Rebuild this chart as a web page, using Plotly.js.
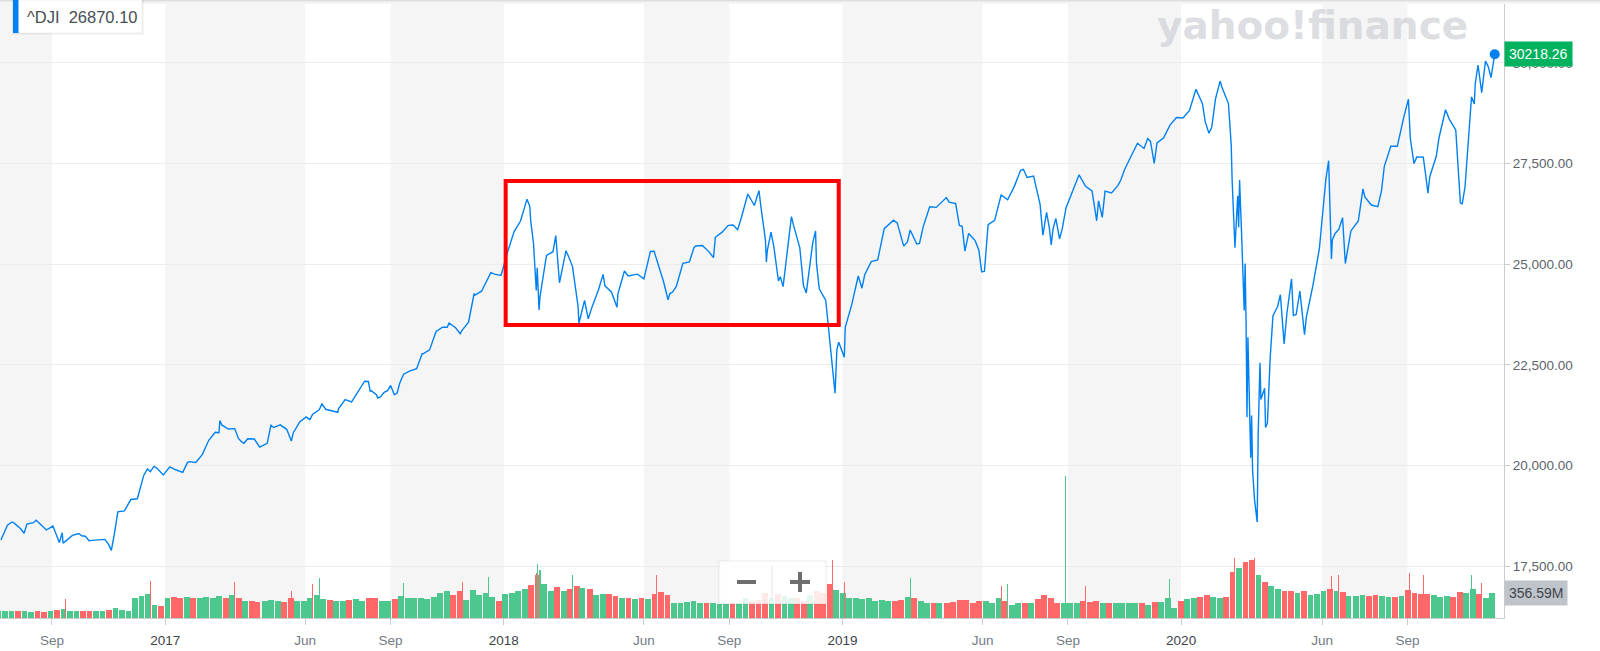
<!DOCTYPE html>
<html><head><meta charset="utf-8">
<script src="https://cdn.plot.ly/plotly-3.0.1.min.js"></script>
<style>html,body{margin:0;padding:0;background:#fff}#chart{width:1600px;height:651px}</style>
</head><body><div id="chart"></div>
<script>
// ---- DATA ----
const weekDates = [
'2016-07-08','2016-07-15','2016-07-22','2016-07-29','2016-08-05','2016-08-12','2016-08-19','2016-08-26','2016-09-02','2016-09-09','2016-09-16','2016-09-23','2016-09-30','2016-10-07','2016-10-14','2016-10-21','2016-10-28','2016-11-04','2016-11-11','2016-11-18','2016-11-25','2016-12-02','2016-12-09','2016-12-16','2016-12-23','2016-12-30',
'2017-01-06','2017-01-13','2017-01-20','2017-01-27','2017-02-03','2017-02-10','2017-02-17','2017-02-24','2017-03-03','2017-03-10','2017-03-17','2017-03-24','2017-03-31','2017-04-07','2017-04-13','2017-04-21','2017-04-28','2017-05-05','2017-05-12','2017-05-19','2017-05-26','2017-06-02','2017-06-09','2017-06-16','2017-06-23','2017-06-30','2017-07-07','2017-07-14','2017-07-21','2017-07-28','2017-08-04','2017-08-11','2017-08-18','2017-08-25','2017-09-01','2017-09-08','2017-09-15','2017-09-22','2017-09-29','2017-10-06','2017-10-13','2017-10-20','2017-10-27','2017-11-03','2017-11-10','2017-11-17','2017-11-24','2017-12-01','2017-12-08','2017-12-15','2017-12-22','2017-12-29',
'2018-01-05','2018-01-12','2018-01-19','2018-01-26','2018-02-02','2018-02-09','2018-02-16','2018-02-23','2018-03-02','2018-03-09','2018-03-16','2018-03-23','2018-03-29','2018-04-06','2018-04-13','2018-04-20','2018-04-27','2018-05-04','2018-05-11','2018-05-18','2018-05-25','2018-06-01','2018-06-08','2018-06-15','2018-06-22','2018-06-29','2018-07-06','2018-07-13','2018-07-20','2018-07-27','2018-08-03','2018-08-10','2018-08-17','2018-08-24','2018-08-31','2018-09-07','2018-09-14','2018-09-21','2018-09-28','2018-10-05','2018-10-12','2018-10-19','2018-10-26','2018-11-02','2018-11-09','2018-11-16','2018-11-23','2018-11-30','2018-12-07','2018-12-14','2018-12-21','2018-12-28',
'2019-01-04','2019-01-11','2019-01-18','2019-01-25','2019-02-01','2019-02-08','2019-02-15','2019-02-22','2019-03-01','2019-03-08','2019-03-15','2019-03-22','2019-03-29','2019-04-05','2019-04-12','2019-04-18','2019-04-26','2019-05-03','2019-05-10','2019-05-17','2019-05-24','2019-05-31','2019-06-07','2019-06-14','2019-06-21','2019-06-28','2019-07-05','2019-07-12','2019-07-19','2019-07-26','2019-08-02','2019-08-09','2019-08-16','2019-08-23','2019-08-30','2019-09-06','2019-09-13','2019-09-20','2019-09-27','2019-10-04','2019-10-11','2019-10-18','2019-10-25','2019-11-01','2019-11-08','2019-11-15','2019-11-22','2019-11-29','2019-12-06','2019-12-13','2019-12-20','2019-12-27',
'2020-01-03','2020-01-10','2020-01-17','2020-01-24','2020-01-31','2020-02-07','2020-02-14','2020-02-21','2020-02-28','2020-03-06','2020-03-13','2020-03-20','2020-03-27','2020-04-03','2020-04-09','2020-04-17','2020-04-24','2020-05-01','2020-05-08','2020-05-15','2020-05-22','2020-05-29','2020-06-05','2020-06-12','2020-06-19','2020-06-26','2020-07-02','2020-07-10','2020-07-17','2020-07-24','2020-07-31','2020-08-07','2020-08-14','2020-08-21','2020-08-28','2020-09-04','2020-09-11','2020-09-18','2020-09-25','2020-10-02','2020-10-09','2020-10-16','2020-10-23','2020-10-30','2020-11-06','2020-11-13','2020-11-20','2020-11-27','2020-12-04'
];
const weekClose = [
18146,18516,18571,18432,18543,18576,18552,18395,18492,18085,18124,18261,18308,18240,18138,18145,18161,17888,18847,18868,19152,19170,19757,19843,19934,19763,
19964,19885,19827,20094,20071,20269,20624,20822,21005,20903,20914,20597,20663,20656,20453,20548,20941,21007,20897,20805,21080,21206,21272,21384,21395,21350,21414,21638,21580,21830,22092,21858,21675,21814,21988,21798,22268,22350,22405,22774,22871,23329,23434,23539,23422,23358,23558,24232,24329,24652,24754,24719,
25296,25803,26072,26617,25521,24191,25219,25310,24538,25336,24947,23533,24103,23933,24360,24463,24311,24263,24831,24715,24753,24635,25317,25090,24581,24271,24456,25019,25058,25451,25463,25313,25669,25790,25965,25917,26155,26744,26458,26447,25340,25444,24688,25271,25989,25413,24286,25538,24389,24100,22445,23062,
23433,23996,24706,24737,25064,25106,25883,26031,26026,25450,25849,25502,25929,26425,26412,26559,26543,26505,25942,25764,25586,24815,25984,26090,26719,26600,26922,27332,27154,27192,26485,26287,25886,25629,26403,26797,27220,26935,26820,26574,26817,26770,26958,27347,27681,28005,27876,28051,28015,28135,28455,28645,
28635,28823,29348,28990,28256,29103,29398,28992,25409,25865,23185,19174,21637,21053,23719,24242,23775,23724,24331,23685,24465,25383,27111,25606,25871,25016,25827,26075,26672,26470,26428,27433,27931,27930,28654,28133,27666,27657,27174,27683,28587,28606,28336,26502,28323,29480,29263,29910,30218.26
];
const weekVolM = [
95,100,95,100,95,90,95,90,95,110,130,100,105,95,100,100,95,115,150,110,100,290,320,340,190,170,
290,300,280,300,290,280,300,290,310,280,330,280,250,250,230,250,260,250,230,290,240,250,290,330,270,260,240,250,260,270,250,280,290,240,250,270,320,280,280,290,270,300,360,380,330,380,260,400,330,360,300,240,
340,360,390,420,470,620,480,380,440,380,410,460,430,420,330,340,350,320,290,280,270,280,270,340,370,330,210,220,230,240,220,210,220,200,200,210,220,280,250,260,360,290,350,320,280,290,240,330,380,360,480,400,
360,290,290,270,280,250,260,240,250,260,300,280,240,220,210,210,220,230,260,260,220,240,240,215,280,250,180,210,215,215,270,330,280,220,210,215,220,240,230,250,220,215,215,220,220,215,220,180,230,230,280,140,
250,270,290,300,330,300,280,300,650,720,800,830,620,520,450,410,380,390,360,380,330,350,390,420,380,370,310,320,330,320,330,320,300,300,310,400,360,350,350,330,300,310,300,370,360,410,350,280,356.59
];
// intraweek closes (daily moves visible in the line)
const extraDates = ['2016-07-20','2016-08-02','2016-08-15','2016-09-12','2016-09-13','2016-10-03','2016-10-11','2016-11-01','2016-11-07','2016-11-09','2016-11-22','2016-12-13','2016-12-20',
'2017-01-25','2017-02-28','2017-03-01','2017-03-21','2017-03-27','2017-04-18','2017-04-25','2017-05-17','2017-06-06','2017-06-19','2017-07-06','2017-08-08','2017-08-10','2017-08-17','2017-08-21','2017-08-29','2017-09-05','2017-09-11','2017-10-05','2017-11-01','2017-11-15','2017-11-30','2017-12-18',
'2018-01-29','2018-01-30','2018-02-05','2018-02-06','2018-02-08','2018-02-26','2018-03-12','2018-03-22','2018-04-02','2018-04-18','2018-05-03','2018-05-15','2018-06-12','2018-06-27','2018-07-02','2018-07-25','2018-08-15','2018-09-05','2018-09-10','2018-10-03','2018-10-10','2018-10-11','2018-10-16','2018-10-24','2018-10-29','2018-11-07','2018-11-20','2018-12-03','2018-12-04','2018-12-24','2018-12-26',
'2019-01-03','2019-01-22','2019-02-25','2019-03-12','2019-03-25','2019-04-23','2019-05-07','2019-05-13','2019-05-28','2019-06-03','2019-07-15','2019-08-05','2019-08-12','2019-08-14','2019-08-19','2019-08-26','2019-09-12','2019-10-02','2019-10-08','2019-10-28','2019-11-26','2019-12-03',
'2020-01-27','2020-02-03','2020-02-12','2020-02-24','2020-02-25','2020-02-27','2020-03-02','2020-03-03','2020-03-04','2020-03-05','2020-03-09','2020-03-10','2020-03-11','2020-03-12','2020-03-16','2020-03-17','2020-03-18','2020-03-23','2020-03-24','2020-03-26','2020-03-31','2020-04-01','2020-04-06','2020-04-14','2020-04-21','2020-04-29','2020-05-04','2020-05-13','2020-05-26','2020-06-08','2020-06-11','2020-06-15','2020-06-23','2020-07-15','2020-08-04','2020-09-02','2020-09-08','2020-09-21','2020-09-23','2020-10-05','2020-10-12','2020-10-28','2020-11-02','2020-11-09','2020-11-12','2020-11-16','2020-11-24','2020-11-30'];
const extraClose = [18595,18314,18636,18326,18067,18253,18129,18037,18260,18590,19023,19911,19975,
20069,20812,21115,20669,20550,20523,20997,20607,21137,21529,21320,22085,21844,21751,21703,21865,21754,22057,22776,23435,23272,24272,24792,
26439,26077,24346,24913,23860,25709,25179,23958,23644,24748,23930,24706,25320,24117,24307,25414,25162,25975,25857,26828,25599,25053,25798,24583,24443,26181,24465,25826,25027,21792,22878,
22686,24404,26092,25555,25516,26656,25965,25325,25347,24820,27359,25718,25897,25479,26135,25898,27182,26079,26164,27091,28121,27503,
28535,28400,29551,27961,27081,25766,26703,25917,27091,26121,23851,25018,23553,21200,20189,21237,19899,18592,20705,22552,21917,20944,22680,23949,23019,24634,23750,23248,24995,27572,25128,25763,26156,26870,26828,29100,27501,27147,26763,28149,28838,26520,26925,29158,28980,29950,30046,29639];
// single-day volume spikes (millions), 1 = up day, 0 = down day
const spikeDates = ['2016-09-16','2016-12-16','2017-03-17','2017-05-17','2017-06-09','2017-06-16','2017-09-15','2017-11-17','2017-12-15','2018-02-05','2018-02-06','2018-02-09','2018-03-16','2018-06-15','2018-12-21','2019-01-03','2019-03-15','2019-06-21','2019-06-28','2019-08-29','2019-09-20','2019-12-20','2020-02-28','2020-03-20','2020-06-11','2020-06-19','2020-09-03','2020-09-18','2020-11-09','2020-11-20'];
const spikeVolM = [265,530,515,385,485,570,500,515,585,645,770,685,615,615,830,515,570,455,485,2030,455,560,860,860,600,615,645,615,615,500];
const spikeUp = [0,0,0,0,0,1,1,0,1,0,1,1,1,0,0,0,1,0,1,1,0,1,0,0,0,0,0,0,1,0];
const tickDates = ['2016-09-01','2017-01-01','2017-06-01','2017-09-01','2018-01-01','2018-06-01','2018-09-01','2019-01-01','2019-06-01','2019-09-01','2020-01-01','2020-06-01','2020-09-01'];
const tickLabels = ['Sep','2017','Jun','Sep','2018','Jun','Sep','2019','Jun','Sep','2020','Jun','Sep'];
const priceTicks = [17500,20000,22500,25000,27500,30000];
const symbolName = '^DJI';
const hoverValue = '26870.10';
const lastCloseText = '30218.26';
const lastVolumeText = '356.59M';

// ---- BUILD ----
const FONT = 'Liberation Sans, Arial, Helvetica, sans-serif';
const GREEN = 'rgb(76,199,142)', RED = 'rgb(255,104,104)', BLUE = 'rgb(0,129,242)';
const DAY = 86400000;
const W = 1504, T = 4, B = 618, H = B - T;
const px = v => v / W;
const py = v => (B - v) / H;

const pts = weekDates.map((d, i) => [d, weekClose[i]]).concat(extraDates.map((d, i) => [d, extraClose[i]]));
pts.sort((a, b) => a[0] < b[0] ? -1 : a[0] > b[0] ? 1 : 0);
const lineX = pts.map(p => p[0]), lineY = pts.map(p => p[1]);

const weekColors = weekClose.map((c, i) => (i === 0 || c >= weekClose[i - 1]) ? GREEN : RED);

const traces = [
  { type: 'bar', x: weekDates, y: weekVolM, yaxis: 'y2', width: 6.3 * DAY, offset: -5.7 * DAY,
    marker: { color: weekColors, line: { width: 0 } }, hoverinfo: 'skip' },
  { type: 'bar', x: spikeDates, y: spikeVolM, yaxis: 'y2', width: 1.1 * DAY, offset: -0.55 * DAY,
    marker: { color: spikeUp.map(u => u ? GREEN : RED), line: { width: 0 } }, hoverinfo: 'skip' },
  { type: 'scatter', mode: 'lines', x: lineX, y: lineY, line: { color: BLUE, width: 1.4 }, hoverinfo: 'skip' },
  { type: 'scatter', mode: 'markers', x: [lineX[lineX.length - 1]], y: [lineY[lineY.length - 1]],
    marker: { color: BLUE, size: 10 }, hoverinfo: 'skip' }
];

// alternating background bands between date ticks
const bandEdges = ['2016-07-01'].concat(tickDates).concat(['2020-12-31']);
const shapes = [];
for (let i = 0; i < bandEdges.length - 1; i += 2) {
  shapes.push({ type: 'rect', xref: 'x', yref: 'paper', x0: bandEdges[i], x1: bandEdges[i + 1], y0: 0, y1: 1,
    fillcolor: '#f5f5f5', line: { width: 0 }, layer: 'below' });
}
// top shadow
shapes.push({ type: 'rect', xref: 'paper', yref: 'paper', x0: 0, x1: 1600 / W, y0: py(1.5), y1: py(0), fillcolor: 'rgba(0,0,0,0.13)', line: { width: 0 } });
shapes.push({ type: 'rect', xref: 'paper', yref: 'paper', x0: 0, x1: 1600 / W, y0: py(4), y1: py(1.5), fillcolor: 'rgba(0,0,0,0.04)', line: { width: 0 } });
// red highlight box
shapes.push({ type: 'rect', xref: 'x', yref: 'y', x0: '2018-01-03', x1: '2018-12-28', y0: 23489, y1: 27067,
  line: { color: '#ff0000', width: 4 }, fillcolor: 'rgba(0,0,0,0)' });
// zoom control box
shapes.push({ type: 'rect', xref: 'paper', yref: 'paper', x0: px(719), x1: px(826), y0: py(604), y1: py(561),
  fillcolor: 'rgba(255,255,255,0.85)', line: { color: 'rgba(0,0,0,0.08)', width: 1 } });
shapes.push({ type: 'line', xref: 'paper', yref: 'paper', x0: px(772), x1: px(772), y0: py(599), y1: py(566), line: { color: 'rgba(0,0,0,0.1)', width: 1 } });
shapes.push({ type: 'line', xref: 'paper', yref: 'paper', x0: px(737), x1: px(756), y0: py(582), y1: py(582), line: { color: '#6e6e6e', width: 4 } });
shapes.push({ type: 'line', xref: 'paper', yref: 'paper', x0: px(790), x1: px(810), y0: py(582), y1: py(582), line: { color: '#6e6e6e', width: 4 } });
shapes.push({ type: 'line', xref: 'paper', yref: 'paper', x0: px(800), x1: px(800), y0: py(592), y1: py(572), line: { color: '#6e6e6e', width: 4 } });
// symbol box top-left
shapes.push({ type: 'rect', xref: 'paper', yref: 'paper', x0: px(12), x1: px(144), y0: py(35), y1: py(0), fillcolor: 'rgba(0,0,0,0.04)', line: { width: 0 } });
shapes.push({ type: 'rect', xref: 'paper', yref: 'paper', x0: px(13), x1: px(142), y0: py(33), y1: py(0), fillcolor: '#ffffff', line: { color: 'rgba(0,0,0,0.06)', width: 1 } });
shapes.push({ type: 'rect', xref: 'paper', yref: 'paper', x0: px(13), x1: px(18.5), y0: py(33), y1: py(0), fillcolor: BLUE, line: { width: 0 } });

const annotations = [
  { xref: 'paper', yref: 'paper', x: px(25), y: py(17), xanchor: 'left', yanchor: 'middle', showarrow: false,
    text: symbolName + '\u00a0\u00a0' + hoverValue, font: { family: FONT, size: 16.5, color: '#464e56' } },
  { xref: 'paper', yref: 'paper', x: px(1312), y: py(1), xanchor: 'center', yanchor: 'top', showarrow: false,
    text: '<b>yahoo!finance</b>', font: { family: 'DejaVu Sans, sans-serif', size: 39, color: 'rgba(205,208,214,0.7)' } },
  { xref: 'paper', yref: 'y', x: 1, y: lineY[lineY.length - 1], xanchor: 'left', yanchor: 'middle', showarrow: false,
    text: lastCloseText, bgcolor: 'rgb(0,177,93)', borderpad: 4, font: { family: FONT, size: 14, color: '#ffffff' } },
  { xref: 'paper', yref: 'paper', x: 1, y: py(593), xanchor: 'left', yanchor: 'middle', showarrow: false,
    text: lastVolumeText, bgcolor: '#bfc3ca', borderpad: 4, font: { family: FONT, size: 14, color: '#3f454c' } }
];

const tickText = tickLabels.map(t => /^\d{4}$/.test(t) ? '<span style="color:#3d434a">' + t + '</span>' : t);

const layout = {
  width: 1600, height: 651,
  margin: { l: 0, r: 96, t: T, b: 651 - B },
  paper_bgcolor: '#ffffff', plot_bgcolor: '#ffffff',
  showlegend: false, barmode: 'overlay', bargap: 0,
  font: { family: FONT },
  xaxis: { type: 'date', range: ['2016-07-07', '2020-12-14'], tickmode: 'array', tickvals: tickDates, ticktext: tickText,
    ticks: 'outside', ticklen: 6, tickcolor: '#cccccc', showline: true, linecolor: '#cccccc', showgrid: false, zeroline: false,
    ticklabelstandoff: 4,
    tickfont: { family: FONT, size: 13.5, color: '#737b84' }, fixedrange: true },
  yaxis: { side: 'right', range: [16208, 31466], tickmode: 'array', tickvals: priceTicks, tickformat: ',.2f',
    ticks: 'outside', ticklen: 5, tickcolor: '#cccccc', showline: true, linecolor: '#cccccc', gridcolor: '#ececec', zeroline: false,
    tickfont: { family: FONT, size: 13.5, color: '#5c636b' }, fixedrange: true },
  yaxis2: { overlaying: 'y', range: [0, 8770], visible: false, fixedrange: true },
  shapes: shapes, annotations: annotations
};

Plotly.newPlot('chart', traces, layout, { displayModeBar: false, staticPlot: true });
</script>
</body></html>
